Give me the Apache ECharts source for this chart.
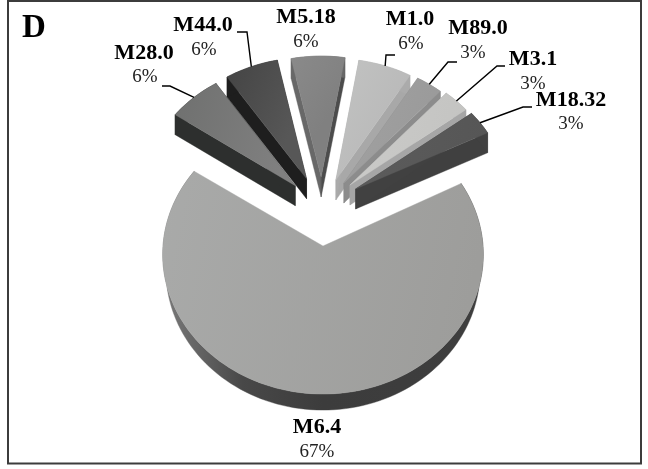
<!DOCTYPE html>
<html>
<head>
<meta charset="utf-8">
<style>html,body{margin:0;padding:0;background:#fff}#chart{width:648px;height:469px}</style>
<script src="https://cdn.jsdelivr.net/npm/echarts@6/dist/echarts.min.js"></script>
</head>
<body>
<div id="chart"></div>
<script>
// Shares of each type, clockwise from the large slice
const categories = ['M6.4', 'M28.0', 'M44.0', 'M5.18', 'M1.0', 'M89.0', 'M3.1', 'M18.32'];
const shares = [67, 6, 6, 6, 6, 3, 3, 3];

// How far each slice is pulled out of the pie, in pie radii on the ground plane
const pullSide = [0, -0.178, -0.106, -0.012, 0.083, 0.134, 0.173, 0.209];
const pullBack = [0, 0.445, 0.498, 0.511, 0.488, 0.465, 0.45, 0.42];

// Slice shading: top face (light end, dark end), left wall, right wall
const topFrom = ['#a9aaa9', '#6f706f', '#444444', '#8a8a8a', '#c2c3c2', '#a2a2a2', '#cbcbc9', '#5c5c5c'];
const topTo = ['#9d9d9b', '#808080', '#575757', '#808080', '#b9b9b9', '#9a9a9a', '#c4c4c2', '#565656'];
const wallLeft = ['#444444', '#2d2f2e', '#1e1e1e', '#4c4c4c', '#a8a8a8', '#8c8c8c', '#a6a6a6', '#404040'];
const wallRight = ['#444444', '#2d2f2e', '#1e1e1e', '#686868', '#ababab', '#8c8c8c', '#a6a6a6', '#414141'];

// Label anchors and leader elbows, in page pixels
const nameAnchor = [[317, 427], [144, 53], [203, 25], [306, 17], [410, 19], [478, 28], [533, 59], [571, 100]];
const shareAnchor = [[317, 452], [145, 77], [204, 50], [306, 42], [411, 44], [473, 53], [533, 84], [571, 124]];
const leaderPath = [null, [[162, 86], [170, 86]], [[237, 32], [247, 32]], null, [[395, 55], [386, 55]],
  [[457, 62], [448, 62]], [[505, 66], [497, 66]], [[532, 107], [523, 107]]];

// Perspective pie geometry
const CX = 323, CY = 246, R = 160, TILT = 0.87, PERSP = 0.06;
const START_ANGLE = 62.5, SLICE_TURN = 1, BODY_DEPTH = 16, SLICE_DEPTH = 20;
const BODY_BASE_SCALE = 0.98, SLICE_RADIUS = 0.975;
const total = shares.reduce((a, b) => a + b, 0);

function project(u, v) {
  const s = 1 / (1 + PERSP * v);
  return [CX + R * u * s, CY - R * TILT * v * s];
}
function rimPoint(i, deg) {
  const a = deg * Math.PI / 180;
  const r = i === 0 ? 1 : SLICE_RADIUS;
  return project(pullSide[i] + r * Math.sin(a), pullBack[i] + r * Math.cos(a));
}
function poly(points, fill, z2) {
  return { type: 'polygon', z2: z2, silent: true, shape: { points: points }, style: { fill: fill, stroke: fill, lineWidth: 0.4 } };
}

const startOf = [];
shares.reduce((acc, v, i) => { startOf[i] = acc + (i ? SLICE_TURN : 0); return acc + v / total * 360; }, START_ANGLE);

function renderSlice(params, api) {
  const i = api.value(1);
  const sweep = api.value(0) / total * 360;
  const from = startOf[i];
  const depth = i === 0 ? BODY_DEPTH : SLICE_DEPTH;
  const arc = [];
  const steps = Math.max(6, Math.round(sweep / 2));
  for (let k = 0; k <= steps; k++) arc.push(rimPoint(i, from + sweep * k / steps));
  const apex = project(pullSide[i], pullBack[i]);
  const base = 10 + i * 5;
  const children = [];

  // Walls first, the one facing the viewer last, then the top face
  const first = arc[0], last = arc[arc.length - 1];
  const right = [first, apex, [apex[0], apex[1] + depth], [first[0], first[1] + depth]];
  const left = [last, apex, [apex[0], apex[1] + depth], [last[0], last[1] + depth]];
  const mid = from + sweep / 2;
  if (i !== 0) {
    if (Math.sin(mid * Math.PI / 180) > 0) {
      children.push(poly(left, wallLeft[i], base), poly(right, wallRight[i], base + 1));
    } else {
      children.push(poly(right, wallRight[i], base), poly(left, wallLeft[i], base + 1));
    }
  }
  // The base outline of the large slice sits a little narrower than its top
  const baseScale = i === 0 ? BODY_BASE_SCALE : 1;
  const lower = arc.map(p => [CX + (p[0] - CX) * baseScale, p[1] + depth]);
  const rimFill = i === 0
    ? { type: 'linear', x: 0, y: 0, x2: 1, y2: 0, colorStops: [
        { offset: 0, color: '#7a7a7a' }, { offset: 0.25, color: '#484848' },
        { offset: 0.5, color: '#3c3c3c' }, { offset: 1, color: '#3e3e3e' }] }
    : wallRight[i];
  children.push(poly(arc.concat(lower.reverse()), rimFill, base + 1));
  const outline = i === 0 ? arc.concat([apex]) : [apex].concat(arc);
  children.push(poly(outline, { type: 'linear', x: 0, y: 0, x2: 1, y2: 0.3, colorStops: [
    { offset: 0, color: topFrom[i] }, { offset: 1, color: topTo[i] }] }, base + 2));

  // Leader from the rim to the label
  if (leaderPath[i]) {
    children.push({ type: 'polyline', z2: 100, silent: true,
      shape: { points: leaderPath[i].concat([rimPoint(i, mid)]) },
      style: { stroke: '#000', lineWidth: 1.4, fill: null } });
  }
  children.push({ type: 'text', z2: 101, silent: true, style: {
    x: nameAnchor[i][0], y: nameAnchor[i][1], text: categories[i], align: 'center', verticalAlign: 'middle',
    font: 'bold 22px "Liberation Serif"', fill: '#000' } });
  children.push({ type: 'text', z2: 101, silent: true, style: {
    x: shareAnchor[i][0], y: shareAnchor[i][1], text: api.value(0) + '%', align: 'center', verticalAlign: 'middle',
    font: '19px "Liberation Serif"', fill: '#222' } });
  return { type: 'group', children: children };
}

const chart = echarts.init(document.getElementById('chart'), null, { renderer: 'canvas' });
chart.setOption({
  animation: false,
  backgroundColor: '#fff',
  title: { text: 'D', left: 22, top: 12, padding: 0,
    textStyle: { fontFamily: 'Liberation Serif', fontWeight: 'bold', fontSize: 33, color: '#000' } },
  graphic: [{ type: 'rect', silent: true, shape: { x: 8, y: 1, width: 633, height: 462.5 },
    style: { fill: 'none', stroke: '#3c3c3c', lineWidth: 2 } }],
  series: [{
    type: 'custom',
    coordinateSystem: 'none',
    silent: true,
    renderItem: renderSlice,
    data: shares.map((v, i) => [v, i])
  }]
});
</script>
</body>
</html>
